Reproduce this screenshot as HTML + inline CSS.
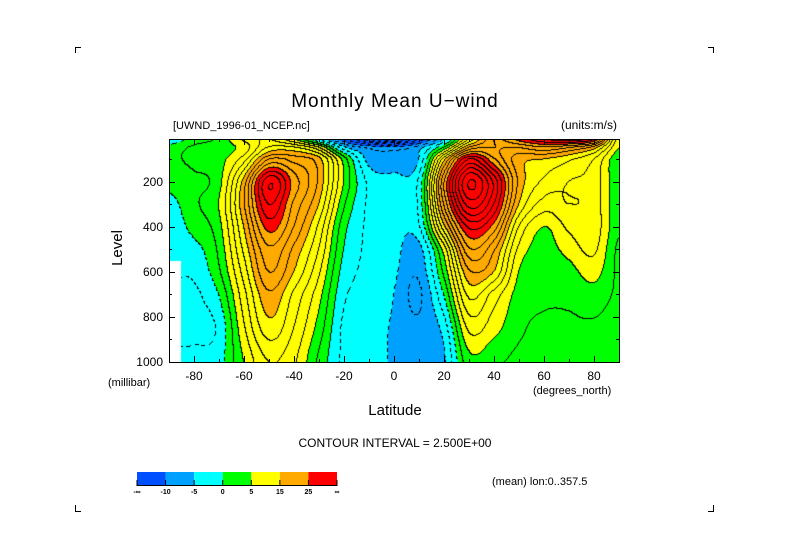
<!DOCTYPE html>
<html><head><meta charset="utf-8">
<style>
body{margin:0;background:#fff;width:789px;height:558px;overflow:hidden;position:relative;font-family:"Liberation Sans",sans-serif}
</style></head><body>
<svg width="789" height="558" style="position:absolute;left:0;top:0">
  <g id="corners" stroke="#000" stroke-width="1" fill="none">
    <path d="M75.5 53V47.5H81"/><path d="M713.5 53V47.5H708"/><path d="M75.5 505V511.5H81"/><path d="M713.5 505V511.5H708"/>
  </g>
  <text x="395" y="107" font-size="19" text-anchor="middle" font-family="Liberation Sans" letter-spacing="1">Monthly Mean U−wind</text>
  <text x="173" y="129" font-size="11" font-family="Liberation Sans">[UWND_1996-01_NCEP.nc]</text>
  <text x="617" y="129" font-size="12" text-anchor="end" font-family="Liberation Sans">(units:m/s)</text>
  <foreignObject x="169" y="139" width="450" height="223"><canvas id="cv" width="450" height="223" xmlns="http://www.w3.org/1999/xhtml" style="display:block"></canvas></foreignObject>
  <rect x="169.5" y="139.5" width="450" height="223" fill="none" stroke="#000"/>
  <g id="axes" font-family="Liberation Sans" font-size="12"></g>
  <text transform="translate(122,248) rotate(-90)" font-size="15" text-anchor="middle" font-family="Liberation Sans">Level</text>
  <text x="108" y="386" font-size="11" font-family="Liberation Sans">(millibar)</text>
  <text x="533" y="394" font-size="11" font-family="Liberation Sans">(degrees_north)</text>
  <text x="395" y="415" font-size="15" text-anchor="middle" font-family="Liberation Sans">Latitude</text>
  <text x="395" y="447" font-size="12" text-anchor="middle" font-family="Liberation Sans">CONTOUR INTERVAL = 2.500E+00</text>
  <text x="492" y="485" font-size="11" font-family="Liberation Sans">(mean) lon:0..357.5</text>
  <g id="cbar" font-family="Liberation Sans" font-size="7" font-weight="bold"></g>
</svg>
<script>
const lats=[-90,-80,-70,-60,-50,-40,-30,-20,-10,0,10,20,30,40,50,60,70,80,90];
const levels=[10,50,100,200,300,400,500,600,700,850,1000];
const u10=[-2,1,3,8,10,5,-3,-12,-20,-25,-15,-5,10,20,26,30,32,28,6];
const u50=[1,3,4,6,13,13,8,-4,-8,-9,-6,3,18,20,20,22,20,16,5];
const u100=[2,3,4,9,20,19,16,4,-6,-7,-5,14,30,23,16,15,13,10,3];
const u200=[1,2,4,16,32,24,17,5,-3,-4,-2,22,40,32,17,12,10,9,3];
const u300=[-1,2,5,17,30,22,15,3,-3,-4,-2,20,36,30,15,9,10,9,3];
const u400=[-2,1,4,15,26,20,12,1,-3,-4,-3,14,28,24,10,5,8,9,3];
const u500=[-2,-1,3,13,22,17,10,0,-3,-4,-6,6,22,18,7,4,6,8,2];
const u600=[null,-2,2,11,20,15,8,-1,-3,-4.5,-7,3,17,15,5,3,4,6,2];
const u700=[null,-3,0,9,17,12,6,-2,-3,-5,-8,0,13,9,4,3,3,4,2];
const u850=[null,-3,-2,7,14,10,4,-3,-4,-5.3,-7,-4,8,6,3,2,2,2,1];
const u1000=[null,-2,-1,5,10,8,2,-3,-4,-5.3,-6.5,-5.5,4,3,2,2,1,1,1];
const field=[u10,u50,u100,u200,u300,u400,u500,u600,u700,u850,u1000];
const cbarLabels=["-∞","-10","-5","0","5","15","25","∞"];
const cbarColors=["#0050ff","#00a0ff","#00ffff","#00ff00","#ffff00","#ffaa00","#ff0000"];
const thresholds=[-10,-5,0,5,15,25];

const X0=169,X1=619,Y0=139,Y1=362,P0=10,P1=1000;
const xOf=lat=>X0+(lat+90)/180*(X1-X0);
const yOf=p=>Y0+(p-P0)/(P1-P0)*(Y1-Y0);
const latOf=x=>-90+(x-X0)/(X1-X0)*180;
const pOf=y=>P0+(y-Y0)/(Y1-Y0)*(P1-P0);
function idx(arr,v){for(let i=0;i<arr.length-1;i++){if(v<=arr[i+1])return [i,Math.max(0,(v-arr[i])/(arr[i+1]-arr[i]))];}return [arr.length-2,1];}
function g(j,i){
  j=Math.max(0,Math.min(levels.length-1,j));i=Math.max(0,Math.min(lats.length-1,i));
  let v=field[j][i];let k=i;while(v===null){k++;v=field[j][k];}
  return v;
}
function cr(a,b,c,d,t){return 0.5*((2*b)+(-a+c)*t+(2*a-5*b+4*c-d)*t*t+(-a+3*b-3*c+d)*t*t*t);}
function val(lat,p){
  const [i,fx]=idx(lats,lat),[j,fy]=idx(levels,p);
  const nj=fy<0.5?j:j+1,ni=fx<0.5?i:i+1;
  if(field[nj][ni]===null)return null;
  const rows=[];
  for(let m=-1;m<=2;m++)rows.push(cr(g(j+m,i-1),g(j+m,i),g(j+m,i+1),g(j+m,i+2),fx));
  return cr(rows[0],rows[1],rows[2],rows[3],fy);
}
function hex(h){return [parseInt(h.substr(1,2),16),parseInt(h.substr(3,2),16),parseInt(h.substr(5,2),16)];}
const rgb=cbarColors.map(hex);
const cv=document.getElementById('cv');const ctx=cv.getContext('2d');
const W=cv.width,H=cv.height;const img=ctx.createImageData(W,H);
const V=new Array(W*H);
for(let y=0;y<H;y++)for(let x=0;x<W;x++)V[y*W+x]=val(latOf(X0+x+0.5),pOf(Y0+y+0.5));
const band=v=>Math.floor(v/2.5);
for(let y=0;y<H;y++)for(let x=0;x<W;x++){
  const k=y*W+x,v=V[k];let c;
  if(v===null)c=[255,255,255];
  else{
    let ci=0;while(ci<thresholds.length&&v>=thresholds[ci])ci++;c=rgb[ci];
    const r=x<W-1?V[k+1]:null,d=y<H-1?V[k+W]:null;
    let line=false;
    if(r!==null&&band(r)!==band(v))line=true;
    if(d!==null&&band(d)!==band(v))line=true;
    if(line){ if(v>=0||((x+y)%7)<4)c=[0,0,0]; }
  }
  img.data[k*4]=c[0];img.data[k*4+1]=c[1];img.data[k*4+2]=c[2];img.data[k*4+3]=255;
}
ctx.putImageData(img,0,0);

const NS='http://www.w3.org/2000/svg';
const ax=document.getElementById('axes');
function mk(tag,attrs,parent){const e=document.createElementNS(NS,tag);for(const k in attrs)e.setAttribute(k,attrs[k]);parent.appendChild(e);return e;}
for(let lat=-90;lat<=90;lat+=10){
  const x=Math.round(xOf(lat))+0.5;
  const t=mk('line',{x1:x,x2:x,y1:Y1,y2:Y1-(lat%20===0?6:3),stroke:'#000'},ax);
  
  
  const t2=mk('line',{x1:x,x2:x,y1:Y0,y2:Y0+(lat%20===0?6:3),stroke:'#000'},ax);
  
  
  if(lat%20===0&&lat>-90&&lat<90){
    const l=mk('text',{x:xOf(lat),y:380,'text-anchor':'middle'},ax);l.textContent=lat;
    
    
  }
}
for(let p=100;p<=1000;p+=100){
  const y=Math.round(yOf(p))+0.5;
  const t=mk('line',{x1:X0,x2:X0+(p%200===0?6:3),y1:y,y2:y,stroke:'#000'},ax);
  
  
  const t2=mk('line',{x1:X1,x2:X1-(p%200===0?6:3),y1:y,y2:y,stroke:'#000'},ax);
  
  
  if(p%200===0){
    const l=mk('text',{x:163,y:yOf(p)+4,'text-anchor':'end'},ax);l.textContent=p;
    
    
  }
}
const cb=document.getElementById('cbar');
const cbX=137,cbW=200,cbY=472,cbH=13,sw=cbW/cbarColors.length;
cbarColors.forEach((c,i)=>{
  const r=mk('rect',{x:cbX+i*sw,y:cbY,width:sw,height:cbH,fill:c},cb);
  
  
});
mk('line',{x1:cbX,x2:cbX+cbW,y1:cbY+cbH+0.5,y2:cbY+cbH+0.5,stroke:'#000'},cb);
cbarLabels.forEach((s,i)=>{
  const x=cbX+i*sw;
  mk('line',{x1:x,x2:x,y1:cbY+cbH-5,y2:cbY+cbH+1,stroke:'#000'},cb);
  const l=mk('text',{x:x,y:cbY+cbH+9,'text-anchor':'middle'},cb);l.textContent=s;
  
  
});
</script>
</body></html>
